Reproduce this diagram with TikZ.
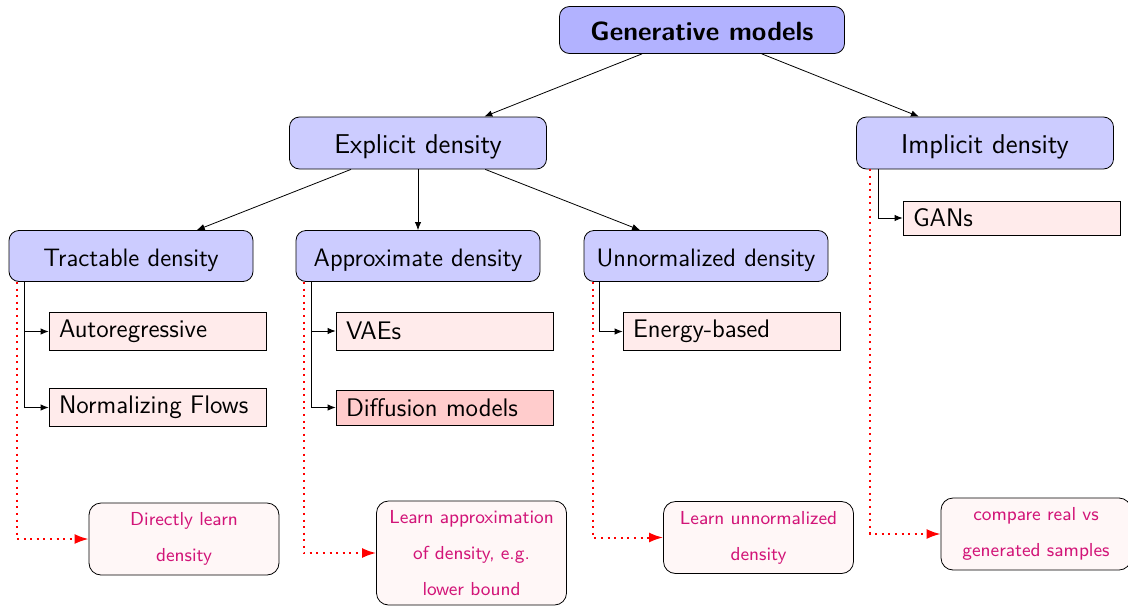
\documentclass[tikz,border=0pt]{standalone}
\usepackage{amsmath}
\usepackage{tikz}
\usetikzlibrary{arrows,arrows.meta,positioning,calc}

\definecolor{notetext}{RGB}{210,20,120}

\begin{document}
\begin{tikzpicture}[x=0.5pt,y=-0.5pt,
		every node/.style={font=\sffamily},
		root/.style={draw,rounded corners=5pt,fill=blue!30,minimum width=142.5pt,minimum height=23.5pt,text height=12pt,text depth=2pt,font=\sffamily\fontsize{13.2}{16}\bfseries\selectfont},
		cat/.style={draw,rounded corners=5pt,fill=blue!20,minimum width=122pt,minimum height=25.5pt,text height=12.5pt,text depth=2pt,font=\sffamily\fontsize{12.6}{15}\selectfont},
		leaf/.style={draw,fill=red!8,text width=98.5pt,inner xsep=5pt,align=left,minimum height=19pt,font=\sffamily\fontsize{12.7}{15}\selectfont},
		note/.style={draw,rounded corners=6pt,fill=red!3,text width=85pt,inner xsep=5pt,align=center,text=notetext,font=\sffamily\fontsize{9.4}{18}\selectfont},
		link/.style={-{Latex[length=4pt,width=3.2pt]}},
		hint/.style={red,line width=1pt,dash pattern=on 1pt off 2.3pt,-{Latex[length=7pt,width=5pt]}}]
		\useasboundingbox (0,0) rectangle (1128,605);
		% top levels
		\node[root] (gen) at (702,30) {Generative models};
		\node[cat,minimum width=128.5pt,minimum height=26pt,font=\sffamily\fontsize{13.6}{16}\selectfont] (expl) at (418,143) {Explicit density};
		\node[cat,minimum width=128.5pt,minimum height=26pt,font=\sffamily\fontsize{13.6}{16}\selectfont] (impl) at (985,143) {Implicit density};
		\node[cat] (tract) at (131,256) {Tractable density};
		\node[cat] (approx) at (418,256) {Approximate density};
		\node[cat] (unnorm) at (706,256) {Unnormalized density};
		\draw[link] (gen) -- (expl);
		\draw[link] (gen) -- (impl);
		\draw[link] (expl) -- (tract);
		\draw[link] (expl) -- (approx);
		\draw[link] (expl) -- (unnorm);
		% model families
		\node[leaf] (autoreg) at (157.5,331.5) {Autoregressive};
		\node[leaf] (flows) at (157.5,407.5) {Normalizing Flows};
		\node[leaf] (vae) at (444.5,331) {VAEs};
		\node[leaf,fill=red!20,minimum height=17.5pt] (diff) at (444.5,407.5) {Diffusion models};
		\node[leaf] (ebm) at (731.5,331.5) {Energy-based};
		\node[leaf,minimum height=17pt] (gan) at (1011.5,218) {GANs};
		\draw[link] ([xshift=8pt]tract.south west) |- (autoreg.west);
		\draw[link] ([xshift=8pt]tract.south west) |- (flows.west);
		\draw[link] ([xshift=8pt]approx.south west) |- (vae.west);
		\draw[link] ([xshift=8pt]approx.south west) |- (diff.west);
		\draw[link] ([xshift=8pt]unnorm.south west) |- (ebm.west);
		\draw[link] ([xshift=11pt]impl.south west) |- (gan.west);
		% notes
		\node[note,minimum height=36pt] (ntract) at (184,539) {Directly learn\\density};
		\node[note,minimum height=52pt] (napprox) at (471.5,553) {Learn approximation\\of density, e.g.\\lower bound};
		\node[note,minimum height=36pt] (nunnorm) at (758.5,537.5) {Learn unnormalized\\density};
		\node[note,minimum height=36pt] (nimpl) at (1036,534) {compare real vs\\generated samples};
		\draw[hint] ([xshift=4pt]tract.south west) |- (ntract.west);
		\draw[hint] ([xshift=4pt]approx.south west) |- (napprox.west);
		\draw[hint] ([xshift=4.5pt]unnorm.south west) |- (nunnorm.west);
		\draw[hint] ([xshift=7pt]impl.south west) |- (nimpl.west);
\end{tikzpicture}
\end{document}
